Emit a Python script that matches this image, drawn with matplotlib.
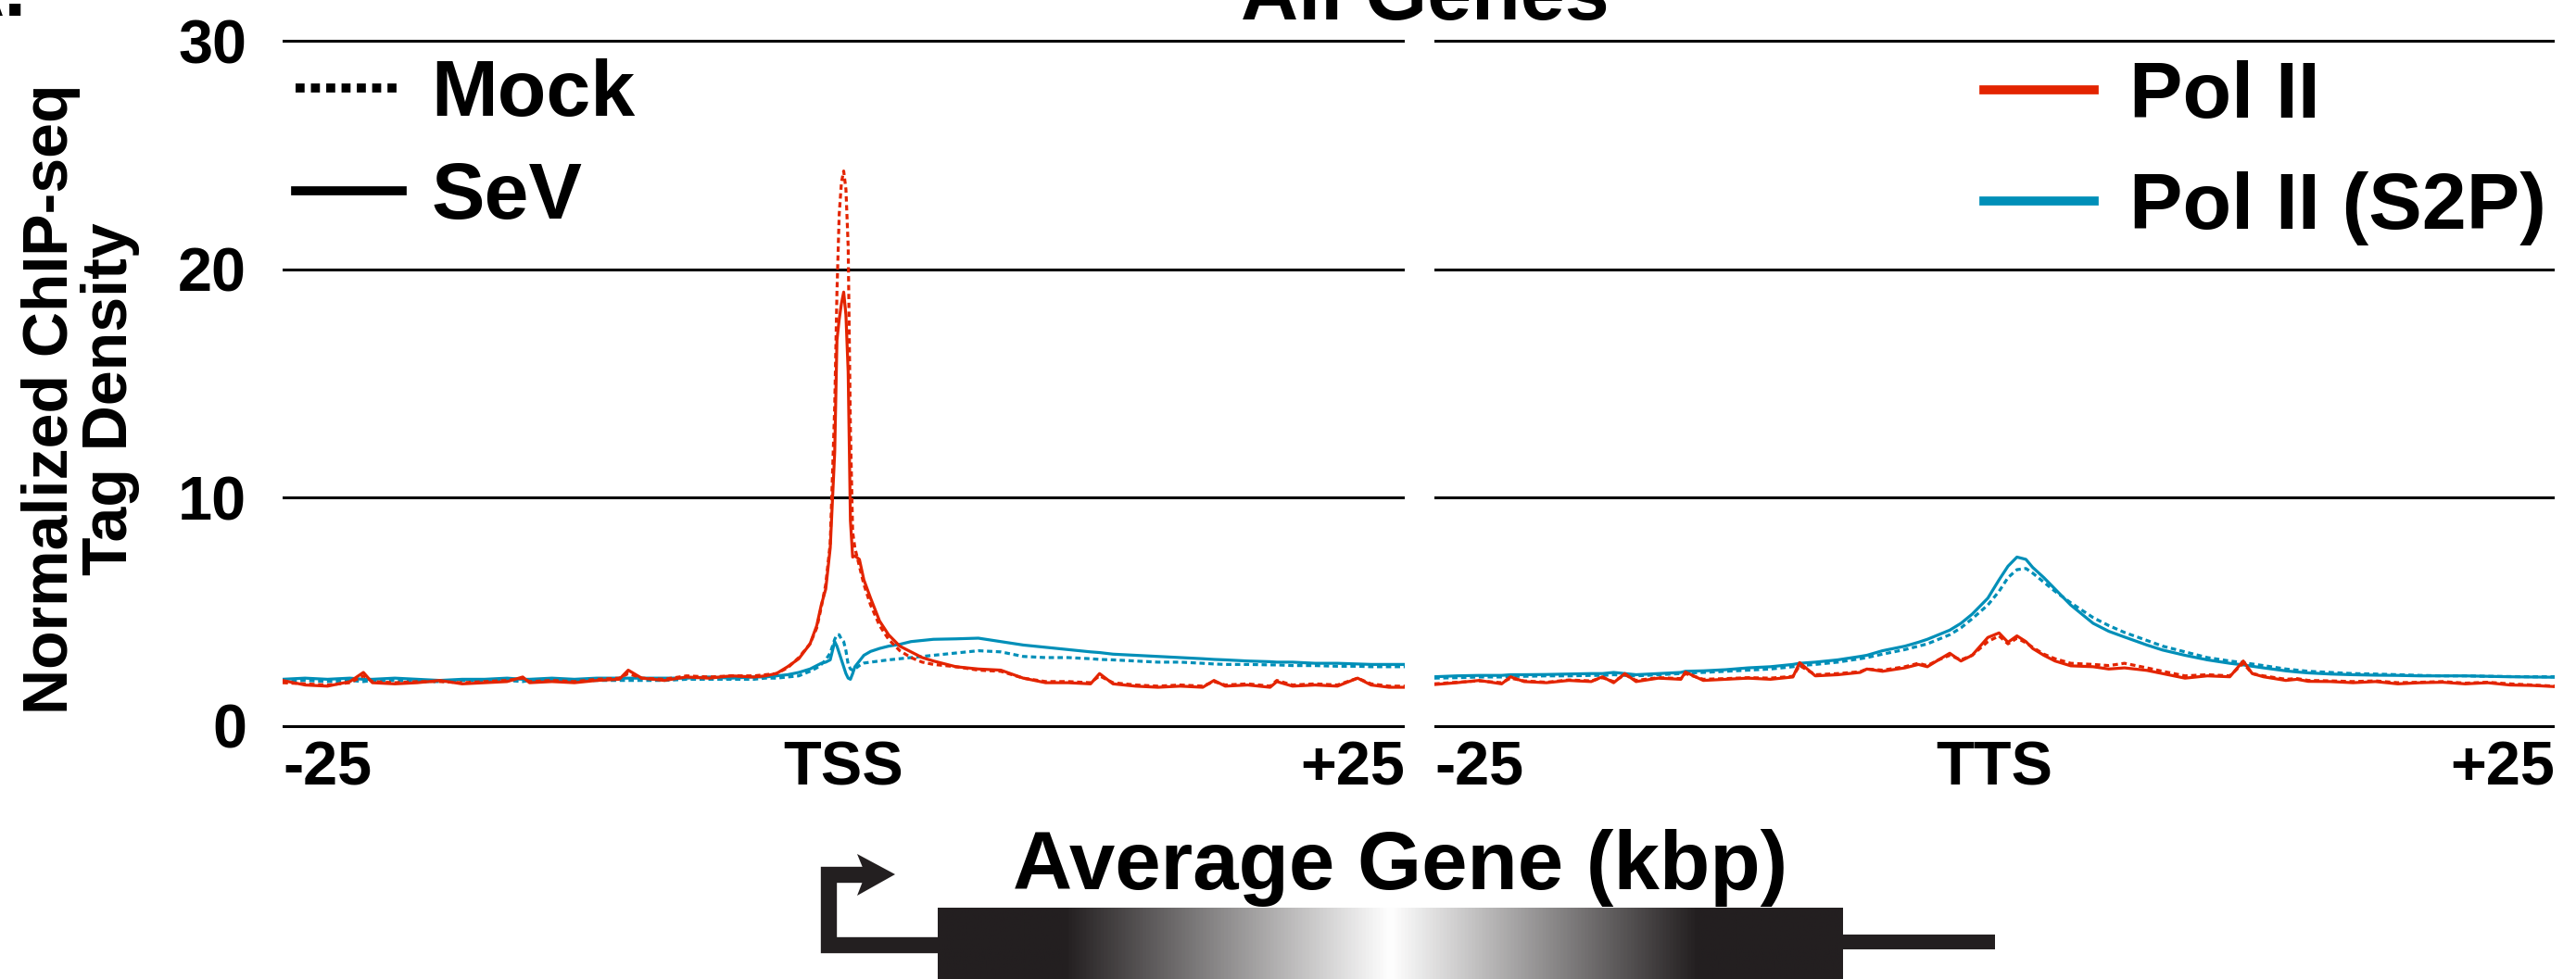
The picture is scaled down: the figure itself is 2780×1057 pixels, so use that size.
import numpy as np
import matplotlib
matplotlib.use("Agg")
import matplotlib.pyplot as plt
from matplotlib.colors import LinearSegmentedColormap
from matplotlib.lines import Line2D
from matplotlib.patches import Polygon

# distance from TSS / TTS in kbp
x_tss = [-25, -24, -23, -22, -21.4, -21, -20, -19, -18, -17,
         -16, -15, -14.3, -14, -13, -12, -11, -10, -9.6, -9,
         -8, -7, -6, -5, -4, -3.5, -3, -2.5, -2, -1.5,
         -1.2, -1, -0.8, -0.6, -0.4, -0.3, -0.2, -0.1, 0, 0.1,
         0.2, 0.3, 0.4, 0.5, 0.7, 0.9, 1.2, 1.6, 2, 2.5,
         3, 3.5, 4, 5, 6, 7, 8, 9, 10, 11,
         11.4, 12, 13, 14, 15, 16, 16.5, 17, 18, 19,
         19.3, 20, 21, 22, 22.9, 23.5, 24.3, 25]

sev_pol2_tss = [2.0, 1.8, 1.75, 1.95, 2.35, 1.9, 1.85, 1.9, 2.0, 1.85,
                1.9, 1.95, 2.15, 1.9, 1.95, 1.9, 2.0, 2.05, 2.45, 2.1,
                2.0, 2.15, 2.1, 2.2, 2.15, 2.2, 2.3, 2.6, 2.95, 3.6,
                4.4, 5.3, 6.0, 7.8, 12.0, 16.9, 17.8, 18.5, 19.0, 18.0,
                15.5, 9.0, 7.4, 7.45, 7.3, 6.4, 5.6, 4.6, 4.0, 3.5,
                3.25, 3.0, 2.85, 2.6, 2.5, 2.45, 2.1, 1.9, 1.9, 1.85,
                2.3, 1.85, 1.75, 1.7, 1.75, 1.7, 2.0, 1.75, 1.8, 1.7,
                1.95, 1.75, 1.8, 1.75, 2.1, 1.8, 1.7, 1.7]

mock_pol2_tss = [1.9, 1.85, 1.8, 1.9, 2.2, 1.95, 1.9, 1.95, 1.95, 1.9,
                 1.95, 2.0, 2.1, 1.95, 2.0, 1.95, 2.05, 2.1, 2.3, 2.1,
                 2.05, 2.2, 2.15, 2.2, 2.2, 2.25, 2.3, 2.55, 3.0, 3.6,
                 4.3, 5.2, 6.2, 8.0, 14.0, 19.0, 22.4, 23.8, 24.3, 23.5,
                 21.0, 13.0, 8.5, 7.8, 7.0, 6.2, 5.3, 4.4, 3.8, 3.3,
                 3.0, 2.8, 2.7, 2.6, 2.45, 2.4, 2.1, 1.95, 1.95, 1.9,
                 2.2, 1.9, 1.8, 1.75, 1.8, 1.75, 1.95, 1.8, 1.85, 1.75,
                 2.0, 1.8, 1.85, 1.8, 2.1, 1.85, 1.75, 1.75]

sev_s2p_tss = [2.05, 2.1, 2.05, 2.1, 2.05, 2.05, 2.1, 2.05, 2.0, 2.05,
               2.05, 2.1, 2.05, 2.05, 2.1, 2.05, 2.1, 2.1, 2.1, 2.1,
               2.1, 2.1, 2.15, 2.1, 2.15, 2.15, 2.2, 2.25, 2.35, 2.5,
               2.65, 2.75, 2.8, 2.9, 3.7, 3.5, 3.2, 2.9, 2.6, 2.3,
               2.1, 2.05, 2.3, 2.6, 2.85, 3.1, 3.27, 3.4, 3.5, 3.58,
               3.7, 3.75, 3.8, 3.82, 3.85, 3.7, 3.55, 3.45, 3.35, 3.25,
               3.22, 3.15, 3.1, 3.05, 3.0, 2.95, 2.92, 2.9, 2.85, 2.82,
               2.8, 2.8, 2.75, 2.75, 2.72, 2.7, 2.7, 2.7]

mock_s2p_tss = [1.95, 2.0, 1.95, 2.0, 1.95, 2.0, 2.0, 1.95, 1.95, 2.0,
                2.0, 2.0, 1.95, 2.0, 2.0, 2.0, 2.0, 2.0, 2.0, 2.0,
                2.0, 2.05, 2.05, 2.05, 2.05, 2.1, 2.1, 2.15, 2.2, 2.4,
                2.55, 2.7, 2.9, 3.2, 3.8, 4.0, 4.0, 3.8, 3.7, 3.3,
                2.7, 2.5, 2.45, 2.5, 2.65, 2.76, 2.8, 2.85, 2.9, 2.95,
                3.0, 3.05, 3.1, 3.2, 3.3, 3.25, 3.05, 3.0, 3.0, 2.95,
                2.92, 2.9, 2.85, 2.8, 2.8, 2.75, 2.72, 2.7, 2.7, 2.68,
                2.68, 2.65, 2.65, 2.62, 2.62, 2.6, 2.6, 2.6]

x_tts = [-25, -24, -23, -22, -21.6, -21, -20, -19, -18, -17.5,
         -17, -16.5, -16, -15, -14, -13.8, -13, -12, -11, -10,
         -9, -8.7, -8, -7, -6, -5.7, -5, -4, -3.4, -3,
         -2.5, -2, -1.5, -1, -0.3, 0.2, 0.6, 1, 1.4, 1.7,
         2.2, 2.7, 3.4, 4.4, 5.1, 5.8, 6.8, 7.5, 8.5, 9.5,
         10.5, 11.1, 11.5, 12, 13, 13.5, 14, 15, 16, 17,
         18, 19, 20, 21, 22, 23, 24, 25]

sev_pol2_tts = [1.82, 1.9, 2.0, 1.85, 2.16, 1.95, 1.9, 2.0, 1.95, 2.16,
                1.9, 2.3, 1.95, 2.1, 2.05, 2.37, 2.0, 2.05, 2.1, 2.05,
                2.15, 2.78, 2.2, 2.25, 2.35, 2.5, 2.4, 2.55, 2.7, 2.6,
                2.9, 3.19, 2.85, 3.1, 3.88, 4.08, 3.67, 3.95, 3.7, 3.4,
                3.1, 2.85, 2.64, 2.6, 2.5, 2.55, 2.44, 2.3, 2.1, 2.2,
                2.16, 2.85, 2.3, 2.16, 2.0, 2.05, 1.96, 1.95, 1.9, 1.95,
                1.85, 1.9, 1.92, 1.85, 1.9, 1.8, 1.78, 1.73]

mock_pol2_tts = [1.85, 1.92, 1.98, 1.9, 2.1, 1.98, 1.92, 2.02, 1.98, 2.12,
                 1.95, 2.25, 2.0, 2.12, 2.08, 2.3, 2.05, 2.08, 2.12, 2.1,
                 2.18, 2.65, 2.25, 2.3, 2.38, 2.5, 2.45, 2.6, 2.75, 2.65,
                 2.9, 3.1, 2.9, 3.1, 3.7, 3.95, 3.6, 3.85, 3.65, 3.45,
                 3.15, 2.95, 2.75, 2.7, 2.65, 2.75, 2.55, 2.4, 2.2, 2.25,
                 2.2, 2.75, 2.3, 2.2, 2.05, 2.08, 2.0, 1.98, 1.95, 1.98,
                 1.9, 1.92, 1.95, 1.88, 1.92, 1.85, 1.8, 1.75]

sev_s2p_tts = [2.16, 2.2, 2.22, 2.22, 2.25, 2.25, 2.26, 2.28, 2.3, 2.3,
               2.35, 2.3, 2.25, 2.3, 2.35, 2.4, 2.42, 2.47, 2.55, 2.6,
               2.7, 2.75, 2.8, 2.9, 3.05, 3.1, 3.3, 3.5, 3.67, 3.8,
               4.0, 4.2, 4.5, 4.9, 5.6, 6.4, 7.0, 7.4, 7.3, 6.95,
               6.5, 6.0, 5.3, 4.5, 4.15, 3.9, 3.55, 3.33, 3.1, 2.9,
               2.75, 2.68, 2.62, 2.55, 2.42, 2.37, 2.33, 2.28, 2.25, 2.23,
               2.22, 2.2, 2.2, 2.2, 2.18, 2.16, 2.15, 2.14]

mock_s2p_tts = [2.1, 2.12, 2.15, 2.15, 2.18, 2.18, 2.2, 2.2, 2.22, 2.22,
                2.25, 2.22, 2.2, 2.25, 2.3, 2.32, 2.35, 2.4, 2.45, 2.5,
                2.6, 2.65, 2.7, 2.8, 2.95, 3.0, 3.15, 3.35, 3.5, 3.6,
                3.8, 4.0, 4.3, 4.7, 5.3, 5.9, 6.5, 6.85, 6.9, 6.7,
                6.3, 5.9, 5.4, 4.75, 4.4, 4.1, 3.75, 3.5, 3.25, 3.0,
                2.85, 2.78, 2.72, 2.65, 2.5, 2.45, 2.4, 2.35, 2.3, 2.28,
                2.25, 2.22, 2.2, 2.2, 2.18, 2.17, 2.16, 2.16]

tss_labels = ["-25", "TSS", "+25"]
tts_labels = ["-25", "TTS", "+25"]
y_ticks = [0, 10, 20, 30]

RED = "#e32400"
BLUE = "#008fb8"
DARK = "#231f20"
DOTTED = (0, (1.8, 1.2))
LW = 2.3

W, H = 2780, 1057

plt.rcParams["font.family"] = ["Liberation Sans", "DejaVu Sans"]
plt.rcParams["font.weight"] = "bold"


def fig_box(x0, y0, x1, y1):
    """Pixel box (top-left origin) -> figure fraction rect."""
    return [x0 / W, 1 - y1 / H, (x1 - x0) / W, (y1 - y0) / H]


def panel(ax, x, mock_s2p, sev_s2p, mock_pol2, sev_pol2, labels):
    ax.plot(x, mock_s2p, color=BLUE, lw=LW, ls=DOTTED)
    ax.plot(x, sev_s2p, color=BLUE, lw=LW)
    ax.plot(x, mock_pol2, color=RED, lw=LW, ls=DOTTED)
    ax.plot(x, sev_pol2, color=RED, lw=LW)

    ax.set_xlim(-25, 25)
    ax.set_ylim(-0.5, 30.5)
    ax.set_yticks(y_ticks)
    ax.grid(axis="y", color="black", lw=2.2)
    ax.set_axisbelow(True)
    for s in ax.spines.values():
        s.set_visible(False)
    ax.tick_params(length=0, labelsize=48)
    ax.tick_params(axis="x", pad=2)
    ax.tick_params(axis="y", pad=28)

    ax.set_xticks([-25, 0, 25])
    ax.set_xticklabels(labels)
    for lab, ha in zip(ax.get_xticklabels(), ["left", "center", "right"]):
        lab.set_ha(ha)


fig = plt.figure(figsize=(W / 100, H / 100), dpi=100)

ax_tss = fig.add_axes(fig_box(305, 31.7, 1516, 796.3))
ax_tts = fig.add_axes(fig_box(1548, 31.7, 2757, 796.3))

panel(ax_tss, x_tss, mock_s2p_tss, sev_s2p_tss, mock_pol2_tss, sev_pol2_tss, tss_labels)
panel(ax_tts, x_tts, mock_s2p_tts, sev_s2p_tts, mock_pol2_tts, sev_pol2_tts, tts_labels)
ax_tts.tick_params(axis="y", labelleft=False)

# legends
cond_handles = [Line2D([], [], color="black", lw=7, ls=(0, (1.0, 0.7))),
                Line2D([], [], color="black", lw=7)]
ax_tss.legend(cond_handles, ["Mock", "SeV"], loc="upper left",
              bbox_to_anchor=(0.0116, 0.959), frameon=False, fontsize=62,
              borderpad=0, borderaxespad=0, handlelength=1.34,
              handletextpad=0.36, labelspacing=0.36)

ab_handles = [Line2D([], [], color=RED, lw=7),
              Line2D([], [], color=BLUE, lw=7)]
ax_tts.legend(ab_handles, ["Pol II", "Pol II (S2P)"], loc="upper right",
              bbox_to_anchor=(0.9926, 0.956), frameon=False, fontsize=62,
              borderpad=0, borderaxespad=0, handlelength=1.38,
              handletextpad=0.44, labelspacing=0.46)

fig.text(1538 / W, 1 - 21 / H, "All Genes", ha="center", va="baseline", fontsize=62)
fig.text(29 / W, 1 - 17 / H, "A.", ha="right", va="baseline", fontsize=62)
fig.text(87 / W, 1 - 431 / H, "Normalized ChIP-seq\nTag Density", rotation=90,
         ha="center", va="center", multialignment="center", fontsize=49,
         linespacing=1.0)
fig.text(1511 / W, 1 - 960 / H, "Average Gene (kbp)", ha="center", va="baseline",
         fontsize=64)

# gene schematic, drawn in pixel units
ax_gene = fig.add_axes(fig_box(870, 915, 2170, 1057))
ax_gene.set_xlim(870, 2170)
ax_gene.set_ylim(1057, 915)
ax_gene.axis("off")

grad = LinearSegmentedColormap.from_list(
    "gene", [(0, DARK), (0.14, DARK), (0.5, "white"), (0.84, DARK), (1, DARK)])
ax_gene.imshow(np.linspace(0, 1, 512)[None, :], cmap=grad, aspect="auto",
               extent=(1012, 1989, 1070, 980), zorder=2)
ax_gene.plot([1989, 2153], [1017, 1017], color=DARK, lw=11.5,
             solid_capstyle="butt", zorder=1)
ax_gene.plot([1012, 894, 894, 935], [1020, 1020, 944, 944], color=DARK, lw=12.5,
             solid_capstyle="butt", solid_joinstyle="miter", zorder=1)
ax_gene.add_patch(Polygon([(925, 922), (966, 944), (925, 967), (934, 944)],
                          closed=True, color=DARK, lw=0))

fig.savefig("out.png", dpi=100)
